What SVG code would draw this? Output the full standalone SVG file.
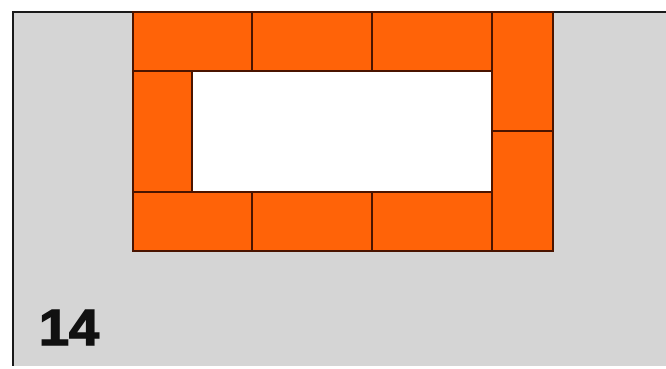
<svg xmlns="http://www.w3.org/2000/svg" width="666" height="369" viewBox="0 0 666 369">
<style>
.b{fill:#ff6308;stroke:#4a1400;stroke-width:2}
</style>
<rect x="0" y="0" width="666" height="369" fill="#ffffff"/>
<rect x="13" y="12" width="653" height="354" fill="#d5d5d5"/>
<path d="M13,366 V12 H666" fill="none" stroke="#1a1a1a" stroke-width="2"/>
<g id="inner"><rect x="192" y="71" width="300" height="121" fill="#ffffff"/></g>
<g id="bricks">
<rect id="t1" class="b" x="133" y="12" width="119" height="59"/>
<rect id="t2" class="b" x="252" y="12" width="120" height="59"/>
<rect id="t3" class="b" x="372" y="12" width="120" height="59"/>
<rect id="r1" class="b" x="492" y="12" width="61" height="119"/>
<rect id="r2" class="b" x="492" y="131" width="61" height="120"/>
<rect id="l1" class="b" x="133" y="71" width="59" height="121"/>
<rect id="b1" class="b" x="133" y="192" width="119" height="59"/>
<rect id="b2" class="b" x="252" y="192" width="120" height="59"/>
<rect id="b3" class="b" x="372" y="192" width="120" height="59"/>
</g>
<text x="39" y="345" font-family="Liberation Sans, Arial, sans-serif" font-weight="bold" font-size="50" fill="#111" stroke="#111" stroke-width="1.5" textLength="60" lengthAdjust="spacingAndGlyphs">14</text>
</svg>
